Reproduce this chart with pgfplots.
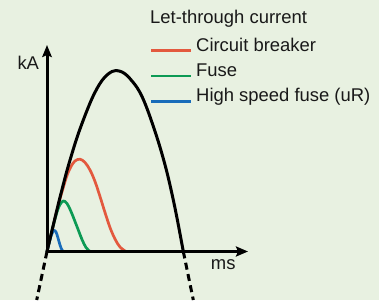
\documentclass[border=0pt]{standalone}
\usepackage{pgfplots}
\pgfplotsset{compat=1.18}
\usepackage{fontspec}
\setmainfont{Liberation Sans}
\usetikzlibrary{arrows.meta}
\definecolor{bg}{RGB}{232,241,225}
\definecolor{cbred}{RGB}{227,89,62}
\definecolor{fgreen}{RGB}{12,154,84}
\definecolor{hsblue}{RGB}{24,108,186}
\definecolor{txt}{RGB}{25,25,25}
\tikzset{lbl/.style={anchor=base west, inner sep=0pt, text=txt, font=\fontsize{18.5}{21}\selectfont}}
\begin{document}
\begin{tikzpicture}
\fill[bg] (0,0) rectangle (379bp,300bp);
\begin{axis}[
  scale only axis, width=379bp, height=300bp,
  xmin=-47, xmax=332, ymin=-48.5, ymax=251.5,
  hide axis, clip=false,
  every axis plot/.append style={line join=round, line cap=round},
]
% let-through currents
\addplot[cbred, line width=2.7bp, smooth, tension=0.6] coordinates {
 (0,0) (6,25) (12,49) (16,63) (20,76) (24,85) (28,90.5) (33,92.3) (38,89) (43,81.5) (48,70) (53,55) (58,39) (63,24) (68,12.5) (73,4.5) (79,0)};
\addplot[fgreen, line width=2.7bp, smooth, tension=0.6] coordinates {
 (0,0) (3,12.5) (6,25) (9,36) (12,45) (16,50.5) (20,48) (24,40) (28,30) (31.3,21.5) (35,12) (39,4) (43,0)};
\addplot[hsblue, line width=2.7bp, smooth, tension=0.6] coordinates {
 (0,0) (2.5,10) (5,18) (7,21) (9,19.5) (11,13.5) (13,6.5) (15,1.5) (17,0)};
% prospective short-circuit current
\addplot[black, line width=3bp, smooth, tension=0.6] coordinates {
 (0,0) (5,21) (10,42) (15,62) (20,81) (25,98) (30,114) (35,128) (40,141) (45,153) (50,163) (55,171) (60,176.5) (65,180) (69,181) (75,179.5) (80,176) (85,170.5) (90,164) (95,155) (100,143) (105,129) (110,114) (115,97.5) (120,79) (125,57.5) (130,33.5) (136.3,0)};
\addplot[black, line width=3bp, dash pattern=on 7bp off 4.5bp, line cap=butt] coordinates {(0,0) (-10.3,-48.5)};
\addplot[black, line width=3bp, dash pattern=on 7bp off 4.5bp, line cap=butt] coordinates {(136.3,0) (146.3,-48.5)};
% axes
\draw[black, line width=3bp, -{Stealth[length=12bp,width=9.5bp,inset=2bp]}] (axis cs:0,-0.5) -- (axis cs:0,206.5);
\draw[black, line width=3bp, -{Stealth[length=12bp,width=10bp,inset=2bp]}] (axis cs:-1,0) -- (axis cs:201,0);
\node[lbl] at (axis cs:-29.7,182.2) {kA};
\node[lbl] at (axis cs:163.7,-17.5) {ms};
% legend
\node[lbl] at (axis cs:103,228.5) {Let-through current};
\draw[cbred, line width=2.7bp] (axis cs:104,200.8) -- (axis cs:144,200.8);
\draw[fgreen, line width=2.7bp] (axis cs:104,175.5) -- (axis cs:144,175.5);
\draw[hsblue, line width=2.7bp] (axis cs:104,150.2) -- (axis cs:144,150.2);
\node[lbl] at (axis cs:149,200.5) {Circuit breaker};
\node[lbl] at (axis cs:149,175.5) {Fuse};
\node[lbl] at (axis cs:149,150) {High speed fuse (uR)};
\end{axis}
\end{tikzpicture}
\end{document}
